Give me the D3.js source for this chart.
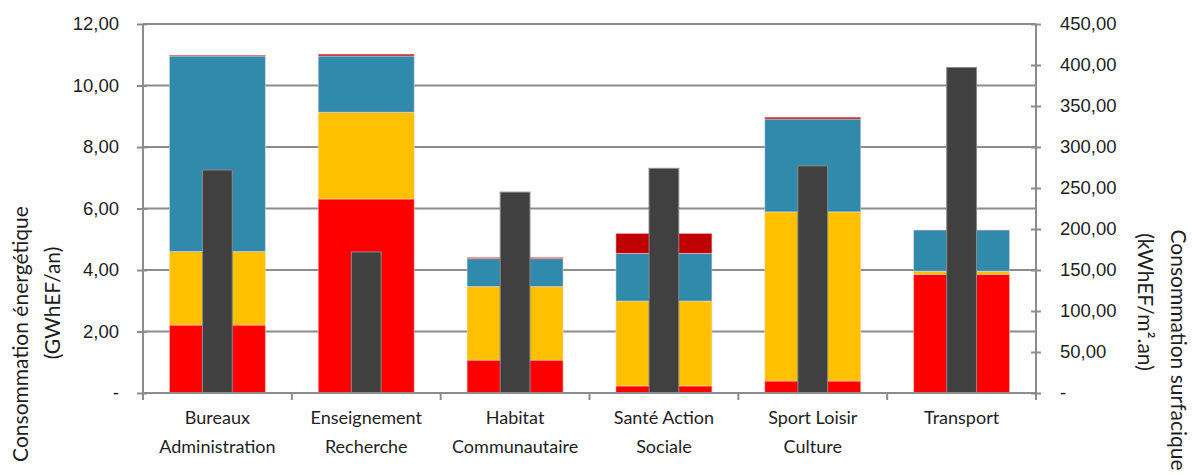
<!DOCTYPE html>
<html lang="fr">
<head>
<meta charset="utf-8">
<script src="https://cdn.jsdelivr.net/npm/d3@7"></script>
<style>
  html, body { margin: 0; padding: 0; background: #ffffff; }
  svg { display: block; font-family: Lato, "Open Sans", sans-serif; }
</style>
</head>
<body>
<svg id="chart" width="1193" height="475"></svg>
<script>
// Secteurs (deux lignes par libellé)
const categories = [
  ["Bureaux", "Administration"],
  ["Enseignement", "Recherche"],
  ["Habitat", "Communautaire"],
  ["Santé Action", "Sociale"],
  ["Sport Loisir", "Culture"],
  ["Transport"]
];

// Consommation énergétique par source (GWhEF/an), empilée
const source1 = [2.21, 6.31, 1.07, 0.23, 0.39, 3.86];
const source2 = [2.39, 2.82, 2.39, 2.76, 5.50, 0.10];
const source3 = [6.36, 1.83, 0.91, 1.55, 3.02, 1.34];
const source4 = [0.03, 0.06, 0.04, 0.65, 0.06, 0.00];

// Consommation surfacique (kWhEF/m².an), axe secondaire
const surfacique = [272, 172, 245, 274, 277, 397];

// Graduations
const leftTicks = [0, 2, 4, 6, 8, 10, 12];
const rightTicks = [0, 50, 100, 150, 200, 250, 300, 350, 400, 450];

const leftTitle = ["Consommation énergétique", "(GWhEF/an)"];
const rightTitle = ["Consommation surfacique", "(kWhEF/m².an)"];

const seriesList = [source1, source2, source3, source4];
const seriesColors = ["#ff0000", "#ffc000", "#2f8aab", "#c00000"];

const svg = d3.select("#chart");
const plot = { left: 143, right: 1036, top: 24, bottom: 393 };

const fr = d3.formatLocale({ decimal: ",", thousands: " ", grouping: [3], currency: ["", " €"] });
const fmt = v => v === 0 ? "-" : fr.format(".2f")(v);

const keys = categories.map(c => c.join(" "));
const xStack = d3.scaleBand().domain(keys).range([plot.left, plot.right])
  .paddingInner(0.355).paddingOuter(0.1775);
const xBar = d3.scaleBand().domain(keys).range([plot.left, plot.right])
  .paddingInner(0.8).paddingOuter(0.4);
const xCat = d3.scaleBand().domain(keys).range([plot.left, plot.right]);

const yL = d3.scaleLinear().domain([0, 12]).range([plot.bottom, plot.top]);
const yR = d3.scaleLinear().domain([0, 450]).range([plot.bottom, plot.top]);

const gridColor = "#8c8c8c";
const textColor = "#1e1e1e";

// Quadrillage horizontal
svg.append("g").selectAll("line").data(leftTicks.filter(t => t > 0)).join("line")
  .attr("x1", plot.left).attr("x2", plot.right)
  .attr("y1", d => yL(d)).attr("y2", d => yL(d))
  .attr("stroke", gridColor).attr("stroke-width", 2);

// Barres empilées
const rows = keys.map((k, i) => {
  const o = { key: k };
  seriesList.forEach((s, j) => o["s" + j] = s[i]);
  return o;
});
const stack = d3.stack().keys(seriesList.map((s, j) => "s" + j))(rows);

svg.append("g").selectAll("g").data(stack).join("g")
  .attr("fill", (d, j) => seriesColors[j])
  .selectAll("rect").data(d => d).join("rect")
  .attr("x", d => xStack(d.data.key))
  .attr("width", xStack.bandwidth())
  .attr("y", d => yL(d[1]))
  .attr("height", d => Math.max(0, yL(d[0]) - yL(d[1])))
  .attr("stroke", "#ffdede").attr("stroke-opacity", 0.5).attr("stroke-width", 1);

// Barres de consommation surfacique
svg.append("g").selectAll("rect").data(surfacique).join("rect")
  .attr("x", (d, i) => xBar(keys[i]))
  .attr("width", xBar.bandwidth())
  .attr("y", d => yR(d))
  .attr("height", d => yR(0) - yR(d))
  .attr("fill", "#404040")
  .attr("stroke", "#8a8a8a").attr("stroke-width", 1);

// Axe gauche
const gL = svg.append("g").attr("transform", `translate(${plot.left},0)`)
  .call(d3.axisLeft(yL).tickValues(leftTicks).tickFormat(fmt).tickSize(6).tickPadding(18));
gL.select(".domain").attr("stroke", gridColor).attr("stroke-width", 2).attr("d", `M0,${plot.bottom}V${plot.top}`);
gL.selectAll(".tick line").attr("stroke", gridColor).attr("stroke-width", 2).attr("x2", -6).attr("x1", 4);
gL.selectAll(".tick text").attr("fill", textColor).attr("font-size", 18.5);

// Axe droit
const gR = svg.append("g").attr("transform", `translate(${plot.right},0)`)
  .call(d3.axisRight(yR).tickValues(rightTicks).tickFormat(fmt).tickSize(6).tickPadding(18));
gR.select(".domain").attr("stroke", gridColor).attr("stroke-width", 2).attr("d", `M0,${plot.bottom}V${plot.top}`);
gR.selectAll(".tick line").attr("stroke", gridColor).attr("stroke-width", 2).attr("x1", -5).attr("x2", 5);
gR.selectAll(".tick text").attr("fill", textColor).attr("font-size", 18.5);

// Axe des catégories
svg.append("line")
  .attr("x1", plot.left).attr("x2", plot.right)
  .attr("y1", plot.bottom).attr("y2", plot.bottom)
  .attr("stroke", gridColor).attr("stroke-width", 2);
const boundaries = keys.map(k => xCat(k)).concat([plot.right]);
svg.append("g").selectAll("line").data(boundaries).join("line")
  .attr("x1", d => d).attr("x2", d => d)
  .attr("y1", plot.bottom).attr("y2", plot.bottom + 7)
  .attr("stroke", gridColor).attr("stroke-width", 2);

const labels = svg.append("g").selectAll("text").data(categories).join("text")
  .attr("text-anchor", "middle").attr("font-size", 18).attr("fill", textColor)
  .attr("transform", (d, i) => `translate(${xCat(keys[i]) + xCat.bandwidth() / 2},424)`);
labels.selectAll("tspan").data(d => d).join("tspan")
  .attr("x", 0).attr("dy", (d, i) => i === 0 ? 0 : 29).text(d => d);

// Titres des axes
svg.append("g").selectAll("text").data(leftTitle).join("text")
  .attr("text-anchor", "middle").attr("font-size", 21).attr("fill", textColor)
  .attr("transform", (d, i) => i === 0 ? "translate(28,334) rotate(-90)" : "translate(60,303) rotate(-90)")
  .text(d => d);

svg.append("g").selectAll("text").data(rightTitle).join("text")
  .attr("text-anchor", "middle").attr("font-size", 21).attr("fill", textColor)
  .attr("transform", (d, i) => i === 0 ? "translate(1171,350) rotate(90)" : "translate(1138,302) rotate(90)")
  .text(d => d);
</script>
</body>
</html>
